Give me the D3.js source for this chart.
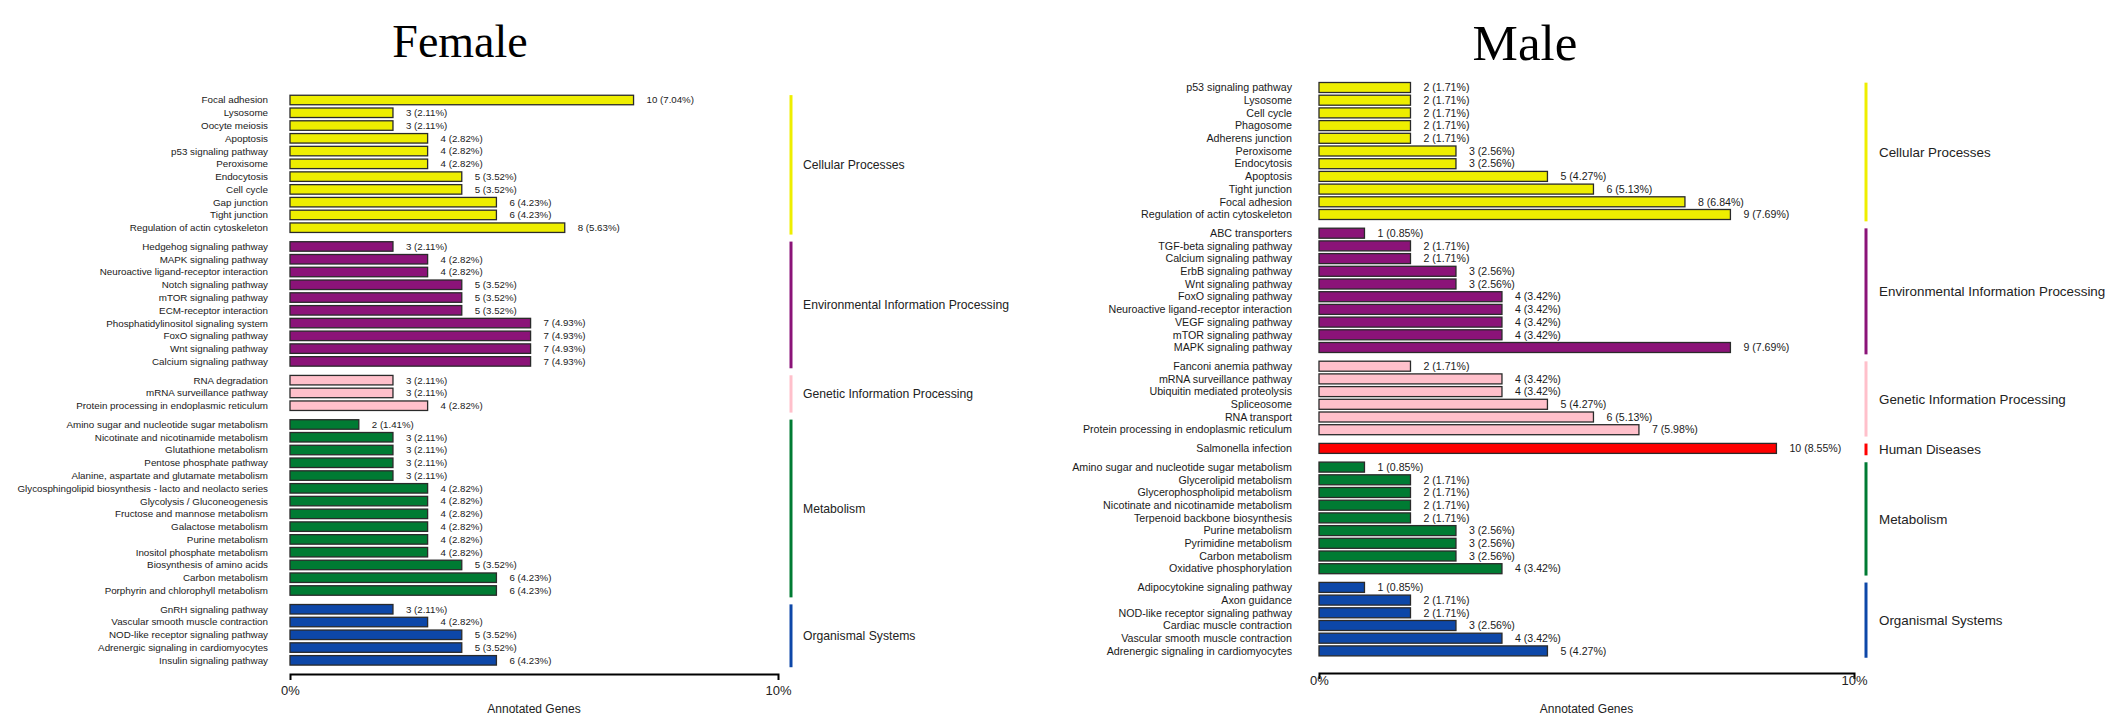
<!DOCTYPE html>
<html>
<head>
<meta charset="utf-8">
<script src="https://cdn.jsdelivr.net/npm/d3@7"></script>
<style>
  html,body{margin:0;padding:0;background:#fff;}
  svg{display:block;}
  text{font-family:"Liberation Sans",Arial,sans-serif;}
  text.title{font-family:"Liberation Serif","Times New Roman",serif;}
</style>
</head>
<body>
<svg id="chart" width="2122" height="722"></svg>
<script>
// ---------------- DATA ----------------
const classNames = ["Cellular Processes","Environmental Information Processing","Genetic Information Processing","Human Diseases","Metabolism","Organismal Systems"];
const classColors = ["#EEEE00","#8B1378","#FFC0CB","#FF0000","#007B33","#0D47A8"];
const tickLabels = ["0%","10%"];
const tickValues = [0,10];
const axisTitle = "Annotated Genes";

// Female
const femaleTerms = [
  "Focal adhesion","Lysosome","Oocyte meiosis","Apoptosis","p53 signaling pathway","Peroxisome","Endocytosis","Cell cycle","Gap junction","Tight junction","Regulation of actin cytoskeleton",
  "Hedgehog signaling pathway","MAPK signaling pathway","Neuroactive ligand-receptor interaction","Notch signaling pathway","mTOR signaling pathway","ECM-receptor interaction","Phosphatidylinositol signaling system","FoxO signaling pathway","Wnt signaling pathway","Calcium signaling pathway",
  "RNA degradation","mRNA surveillance pathway","Protein processing in endoplasmic reticulum",
  "Amino sugar and nucleotide sugar metabolism","Nicotinate and nicotinamide metabolism","Glutathione metabolism","Pentose phosphate pathway","Alanine, aspartate and glutamate metabolism","Glycosphingolipid biosynthesis - lacto and neolacto series","Glycolysis / Gluconeogenesis","Fructose and mannose metabolism","Galactose metabolism","Purine metabolism","Inositol phosphate metabolism","Biosynthesis of amino acids","Carbon metabolism","Porphyrin and chlorophyll metabolism",
  "GnRH signaling pathway","Vascular smooth muscle contraction","NOD-like receptor signaling pathway","Adrenergic signaling in cardiomyocytes","Insulin signaling pathway"
];
const femaleGenes = [10,3,3,4,4,4,5,5,6,6,8, 3,4,4,5,5,5,7,7,7,7, 3,3,4, 2,3,3,3,3,4,4,4,4,4,4,5,6,6, 3,4,5,5,6];
const femalePercents = [7.04,2.11,2.11,2.82,2.82,2.82,3.52,3.52,4.23,4.23,5.63, 2.11,2.82,2.82,3.52,3.52,3.52,4.93,4.93,4.93,4.93, 2.11,2.11,2.82, 1.41,2.11,2.11,2.11,2.11,2.82,2.82,2.82,2.82,2.82,2.82,3.52,4.23,4.23, 2.11,2.82,3.52,3.52,4.23];
const femaleClass = [0,0,0,0,0,0,0,0,0,0,0, 1,1,1,1,1,1,1,1,1,1, 2,2,2, 4,4,4,4,4,4,4,4,4,4,4,4,4,4, 5,5,5,5,5];

// Male
const maleTerms = [
  "p53 signaling pathway","Lysosome","Cell cycle","Phagosome","Adherens junction","Peroxisome","Endocytosis","Apoptosis","Tight junction","Focal adhesion","Regulation of actin cytoskeleton",
  "ABC transporters","TGF-beta signaling pathway","Calcium signaling pathway","ErbB signaling pathway","Wnt signaling pathway","FoxO signaling pathway","Neuroactive ligand-receptor interaction","VEGF signaling pathway","mTOR signaling pathway","MAPK signaling pathway",
  "Fanconi anemia pathway","mRNA surveillance pathway","Ubiquitin mediated proteolysis","Spliceosome","RNA transport","Protein processing in endoplasmic reticulum",
  "Salmonella infection",
  "Amino sugar and nucleotide sugar metabolism","Glycerolipid metabolism","Glycerophospholipid metabolism","Nicotinate and nicotinamide metabolism","Terpenoid backbone biosynthesis","Purine metabolism","Pyrimidine metabolism","Carbon metabolism","Oxidative phosphorylation",
  "Adipocytokine signaling pathway","Axon guidance","NOD-like receptor signaling pathway","Cardiac muscle contraction","Vascular smooth muscle contraction","Adrenergic signaling in cardiomyocytes"
];
const maleGenes = [2,2,2,2,2,3,3,5,6,8,9, 1,2,2,3,3,4,4,4,4,9, 2,4,4,5,6,7, 10, 1,2,2,2,2,3,3,3,4, 1,2,2,3,4,5];
const malePercents = [1.71,1.71,1.71,1.71,1.71,2.56,2.56,4.27,5.13,6.84,7.69, 0.85,1.71,1.71,2.56,2.56,3.42,3.42,3.42,3.42,7.69, 1.71,3.42,3.42,4.27,5.13,5.98, 8.55, 0.85,1.71,1.71,1.71,1.71,2.56,2.56,2.56,3.42, 0.85,1.71,1.71,2.56,3.42,4.27];
const maleClass = [0,0,0,0,0,0,0,0,0,0,0, 1,1,1,1,1,1,1,1,1,1, 2,2,2,2,2,2, 3, 4,4,4,4,4,4,4,4,4, 5,5,5,5,5,5];

// ---------------- DRAW ----------------
const svg = d3.select("#chart");

function drawPanel(cfg){
  const g = svg.append("g");
  const x = d3.scaleLinear().domain([0,10]).range([cfg.x0, cfg.x1]);
  const groupOrder = [];
  cfg.cls.forEach(c => { if (!groupOrder.includes(c)) groupOrder.push(c); });
  const slots = cfg.cls.map((c,i) => i + groupOrder.indexOf(c) * cfg.gapFrac);
  const y = d3.scaleLinear().domain([0,1]).range([cfg.firstY, cfg.firstY + cfg.step]);

  const rows = cfg.terms.map((t,i) => ({term:t, genes:cfg.genes[i], pct:cfg.pct[i], cls:cfg.cls[i], slot:slots[i]}));

  // bars
  g.selectAll("rect.bar").data(rows).enter().append("rect")
    .attr("class","bar")
    .attr("x", x(0))
    .attr("y", d => y(d.slot) - cfg.barH/2)
    .attr("width", d => x(d.pct) - x(0))
    .attr("height", cfg.barH)
    .attr("fill", d => classColors[d.cls])
    .attr("stroke", "#2a2a2a")
    .attr("stroke-width", 1.3);

  // term labels
  g.selectAll("text.term").data(rows).enter().append("text")
    .attr("x", x(0) - cfg.labelGap)
    .attr("y", d => y(d.slot))
    .attr("dy","0.35em")
    .attr("text-anchor","end")
    .attr("font-size", cfg.labelFont)
    .attr("fill","#1a1a1a")
    .text(d => d.term);

  // value labels
  g.selectAll("text.val").data(rows).enter().append("text")
    .attr("x", d => x(d.pct) + cfg.valGap)
    .attr("y", d => y(d.slot))
    .attr("dy","0.35em")
    .attr("font-size", cfg.valFont)
    .attr("fill","#1a1a1a")
    .text(d => d.genes + " (" + d.pct.toFixed(2) + "%)");

  // class lines + labels
  groupOrder.forEach(c => {
    const idx = rows.filter(r => r.cls === c);
    const top = y(idx[0].slot) - cfg.step/2 + 1.5;
    const bot = y(idx[idx.length-1].slot) + cfg.step/2 + 0.5;
    g.append("line")
      .attr("x1", cfg.lineX).attr("x2", cfg.lineX)
      .attr("y1", top).attr("y2", bot)
      .attr("stroke", classColors[c])
      .attr("stroke-width", 3);
    g.append("text")
      .attr("x", cfg.catX)
      .attr("y", (top+bot)/2)
      .attr("dy","0.35em")
      .attr("font-size", cfg.catFont)
      .attr("fill","#222")
      .text(classNames[c]);
  });

  // axis
  const axis = d3.axisBottom(x)
    .tickValues(tickValues)
    .tickFormat((d,i) => tickLabels[i])
    .tickSizeInner(0)
    .tickSizeOuter(6)
    .tickPadding(cfg.tickPad);
  const ag = g.append("g").attr("transform", `translate(0,${cfg.axisY})`).call(axis);
  ag.select(".domain").attr("stroke","#000").attr("stroke-width",2);
  ag.selectAll(".tick line").remove();
  ag.selectAll(".tick text")
    .attr("font-size", 13).attr("fill","#222");

  g.append("text")
    .attr("x", (cfg.x0 + cfg.x1)/2)
    .attr("y", cfg.axisTitleY)
    .attr("text-anchor","middle")
    .attr("font-size", 12)
    .attr("fill","#222")
    .text(axisTitle);

  // title
  g.append("text")
    .attr("class","title")
    .attr("x", cfg.titleX)
    .attr("y", cfg.titleY)
    .attr("text-anchor","middle")
    .attr("font-size", cfg.titleFont)
    .attr("fill","#000")
    .text(cfg.title);
}

drawPanel({
  title:"Female", titleX:460, titleY:57, titleFont:46,
  terms:femaleTerms, genes:femaleGenes, pct:femalePercents, cls:femaleClass,
  x0:290, x1:778, firstY:100, step:12.77, gapFrac:6/12.77, barH:9.5,
  labelGap:22, labelFont:9.8, valGap:13, valFont:9.7,
  lineX:791, catX:803, catFont:12.2,
  axisY:674, tickPad:12, axisTitleY:713
});

drawPanel({
  title:"Male", titleX:1525, titleY:60, titleFont:51,
  terms:maleTerms, genes:maleGenes, pct:malePercents, cls:maleClass,
  x0:1319, x1:1854, firstY:87.5, step:12.7, gapFrac:6/12.7, barH:10,
  labelGap:27, labelFont:10.7, valGap:13, valFont:10.6,
  lineX:1866, catX:1879, catFont:13.4,
  axisY:673, tickPad:3, axisTitleY:713
});
</script>
</body>
</html>
